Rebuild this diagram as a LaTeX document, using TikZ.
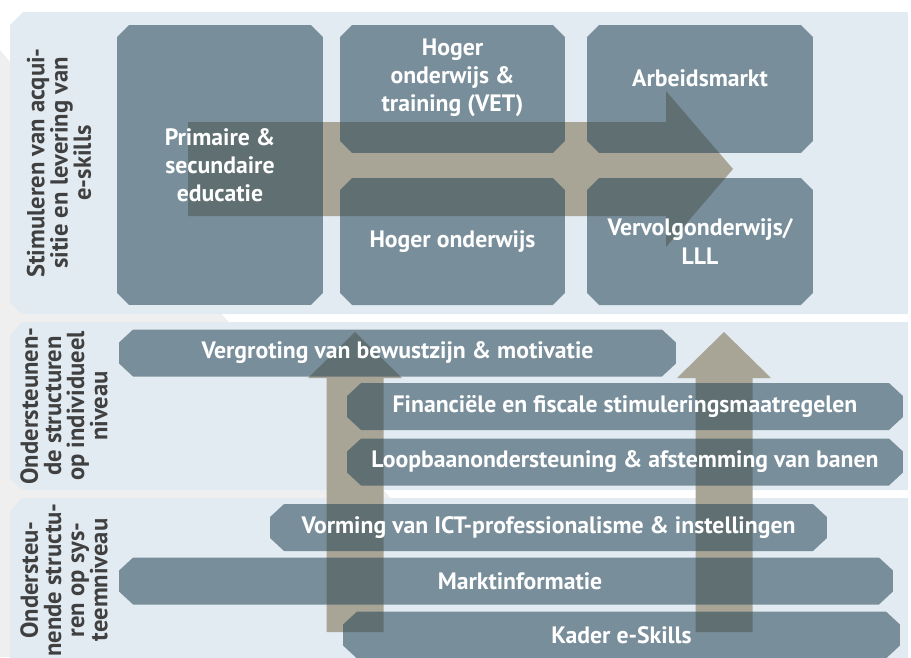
\documentclass[tikz,border=0pt]{standalone}
\usepackage{fontspec}
\setmainfont{PT Sans}

\definecolor{bandcol}{RGB}{226,234,242}
\definecolor{tilecol}{RGB}{40,71,87}
\definecolor{arrowcol}{RGB}{168,165,150}
\definecolor{shadecol}{RGB}{239,239,239}
\definecolor{labelcol}{RGB}{64,64,64}

\begin{document}
\begin{tikzpicture}[x=0.02cm, y=-0.02cm,
every node/.style={align=center, font=\bfseries\fontsize{13.5}{16}\selectfont},
chamf/.style 2 args={path picture={\fill[tilecol, fill opacity=0.56]
  ([yshift=#2]path picture bounding box.south west) -- ([xshift=#1]path picture bounding box.south west)
  -- ([xshift=-#1]path picture bounding box.south east) -- ([yshift=#2]path picture bounding box.south east)
  -- ([yshift=-#2]path picture bounding box.north east) -- ([xshift=-#1]path picture bounding box.north east)
  -- ([xshift=#1]path picture bounding box.north west) -- ([yshift=-#2]path picture bounding box.north west) -- cycle;}},
tile/.style={rectangle, chamf={0.24cm}{0.24cm}, text=white, inner sep=0pt},
bar/.style={rectangle, chamf={0.28cm}{0.26cm}, text=white, inner sep=0pt, minimum height=0.94cm},
tiletext/.style={text=white},
side/.style={rotate=90, text=labelcol, font=\bfseries\fontsize{14}{13.2}\selectfont}]
\useasboundingbox (0,0) rectangle (911,657);
%================================================================
% Background
\fill[shadecol] (0,50) -- (225,318) -- (537,657) -- (0,657) -- cycle;
\fill[bandcol] (10,25) -- (23,12) -- (908,12) -- (908,314) -- (22,314) -- (10,302) -- cycle;
\fill[bandcol] (10,335) -- (22,322) -- (908,322) -- (908,490) -- (22,490) -- (10,478) -- cycle;
\fill[bandcol] (10,511) -- (22,498) -- (908,498) -- (908,660) -- (10,660) -- cycle;

%================================================================
% Arrows
\fill[arrowcol] (188,122) -- (666,122) -- (666,91) -- (733,169) -- (666,247) -- (666,216) -- (188,216) -- cycle;
\foreach \ax in {355,724}
  \fill[arrowcol] (\ax-28.5,632) -- (\ax-28.5,378) -- (\ax-47,378) -- (\ax,332) -- (\ax+47,378) -- (\ax+28.5,378) -- (\ax+28.5,632) -- cycle;

%================================================================
% Stimuleren van acquisitie en levering
\node[side] (stim) at (59,163) {Stimuleren van acqui-\\sitie en levering van\\e-skills};
\node[tile, minimum width=4.12cm, minimum height=5.6cm] (prim) at (220,165) {Primaire \&\\secundaire\\educatie};
\node[tile, minimum width=4.5cm, minimum height=2.56cm] (vet) at (452.5,89) {};
\node[tiletext] (vettxt) at (452.5,78) {Hoger\\onderwijs \&\\training (VET)};
\node[tile, minimum width=4.5cm, minimum height=2.54cm] (hbo) at (452.5,241.5) {Hoger onderwijs};
\node[tile, minimum width=4.52cm, minimum height=2.56cm] (arb) at (700,89) {};
\node[tiletext] (arbtxt) at (700,78) {Arbeidsmarkt};
\node[tile, minimum width=4.52cm, minimum height=2.54cm] (lll) at (700,241.5) {Vervolgonderwijs/\\LLL};

%================================================================
% Individueel niveau
\node[side] (indiv) at (64,406) {Ondersteunen-\\de structuren\\op individueel\\niveau};
\node[bar, minimum width=11.14cm] (motiv) at (397.5,353) {Vergroting van bewustzijn \& motivatie};
\node[bar, minimum width=11.12cm] (fisc) at (625,406.5) {Financiële en fiscale stimuleringsmaatregelen};
\node[bar, minimum width=11.12cm] (loop) at (625,462) {Loopbaanondersteuning \& afstemming van banen};

%================================================================
% Systeemniveau
\node[side] (syst) at (64,580) {Ondersteu-\\nende structu-\\ren op sys-\\teemniveau};
\node[bar, minimum width=11.14cm] (ict) at (548.5,527.5) {Vorming van ICT-professionalisme \& instellingen};
\node[bar, minimum width=15.48cm] (markt) at (506,581) {};
\node[tiletext] (markttxt) at (520,581) {Marktinformatie};
\node[bar, minimum width=11.14cm] (kader) at (621.5,635) {Kader e-Skills};

%================================================================
\end{tikzpicture}
\end{document}
